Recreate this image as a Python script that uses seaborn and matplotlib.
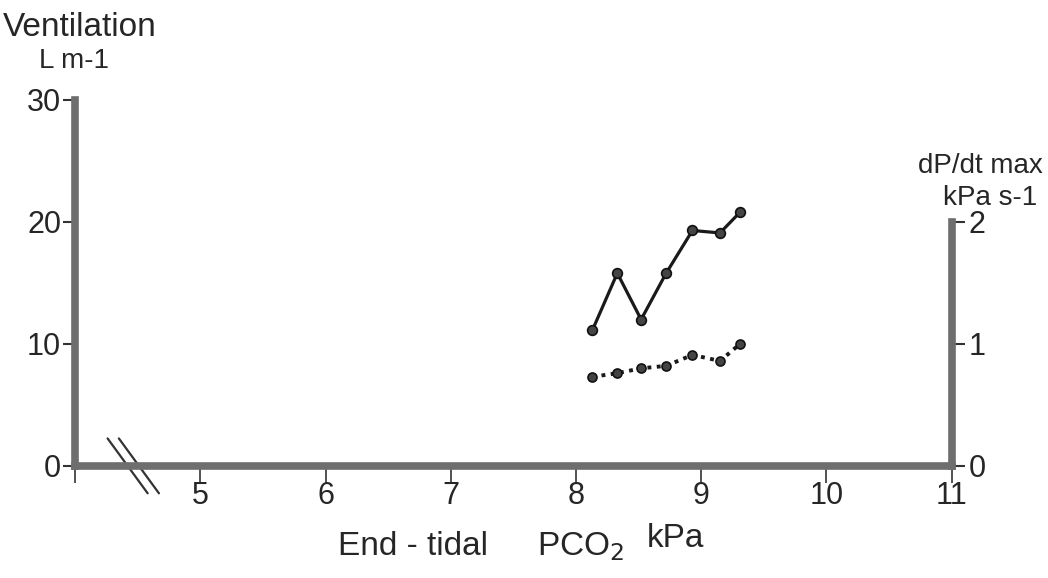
import matplotlib
matplotlib.use("Agg")
import matplotlib.pyplot as plt
import matplotlib.transforms as mtransforms
import seaborn as sns
import pandas as pd

# ---- data ----
pco2 = [8.13, 8.33, 8.52, 8.72, 8.93, 9.15, 9.31]
ventilation = [11.1, 15.8, 12.0, 15.8, 19.3, 19.1, 20.8]
dpdt_max = [0.73, 0.76, 0.80, 0.82, 0.91, 0.86, 1.00]
x_ticks = [4, 5, 6, 7, 8, 9, 10, 11]
x_tick_labels = ["", "5", "6", "7", "8", "9", "10", "11"]
left_ticks = [0, 10, 20, 30]
right_ticks = [0, 1, 2]

sns.set_style("white")
plt.rcParams['font.family'] = ['Liberation Sans', 'DejaVu Sans']

df = pd.DataFrame({"pco2": pco2, "vent": ventilation, "dpdt": dpdt_max})

fig = plt.figure(figsize=(10.48, 5.78), dpi=100)
ax = fig.add_axes([0.0716, 0.194, 0.8365, 0.633])
ax2 = ax.twinx()

spine_col = "#6e6e6e"
spine_w = 5.5

sns.lineplot(data=df, x="pco2", y="vent", ax=ax, color="#1a1a1a", lw=2.3,
             marker="o", markersize=7, markerfacecolor="#444444",
             markeredgecolor="#111111", markeredgewidth=1.2)
sns.lineplot(data=df, x="pco2", y="dpdt", ax=ax2, color="#1a1a1a", lw=2.8,
             linestyle=(0, (1, 1.4)), marker="o", markersize=6.5,
             markerfacecolor="#444444", markeredgecolor="#111111",
             markeredgewidth=1.2)

ax.set_xlim(4, 11)
ax.set_ylim(0, 30)
ax2.set_ylim(0, 3)

for a in (ax, ax2):
    a.set_xlabel("")
    a.set_ylabel("")
    a.spines["top"].set_visible(False)

ax.spines["right"].set_visible(False)
ax.spines["left"].set_linewidth(spine_w)
ax.spines["left"].set_color(spine_col)
ax.spines["bottom"].set_linewidth(spine_w)
ax.spines["bottom"].set_color(spine_col)
ax2.spines["left"].set_visible(False)
ax2.spines["bottom"].set_visible(False)
ax2.spines["right"].set_linewidth(spine_w)
ax2.spines["right"].set_color(spine_col)
ax2.spines["right"].set_bounds(0, 2)

ax.set_xticks(x_ticks)
ax.set_xticklabels(x_tick_labels)
ax.set_yticks(left_ticks)
ax2.set_yticks(right_ticks)

ax.tick_params(axis="x", direction="out", length=12, width=1.2, color="#333333",
               labelsize=22, pad=-1, bottom=True)
ax.tick_params(axis="y", direction="out", length=9, width=1.5, color="#333333",
               labelsize=22, pad=1, left=True)
ax2.tick_params(axis="y", direction="out", length=9, width=1.5, color="#333333",
                labelsize=22, pad=3, right=True)

# axis break marks on the x axis
trans = mtransforms.blended_transform_factory(ax.transData, ax.transAxes)
for dx in (0.0, 0.09):
    ax.plot([4.26 + dx, 4.58 + dx], [0.075, -0.075], transform=trans,
            color="#333333", lw=1.6, clip_on=False)

# axis titles
fig.text(0.003, 0.98, "Ventilation", fontsize=24, va="top", ha="left")
fig.text(0.037, 0.917, "L m-1", fontsize=20, va="top", ha="left")
fig.text(0.995, 0.735, "dP/dt max", fontsize=20, va="top", ha="right")
fig.text(0.99, 0.68, "kPa s-1", fontsize=20, va="top", ha="right")
fig.text(0.3225, 0.040, "End - tidal", fontsize=24, va="baseline", ha="left")
fig.text(0.512, 0.040, r"PCO$_2$", fontsize=24, va="baseline", ha="left")
fig.text(0.617, 0.054, "kPa", fontsize=24, va="baseline", ha="left")

fig.savefig("out.png", dpi=100)
